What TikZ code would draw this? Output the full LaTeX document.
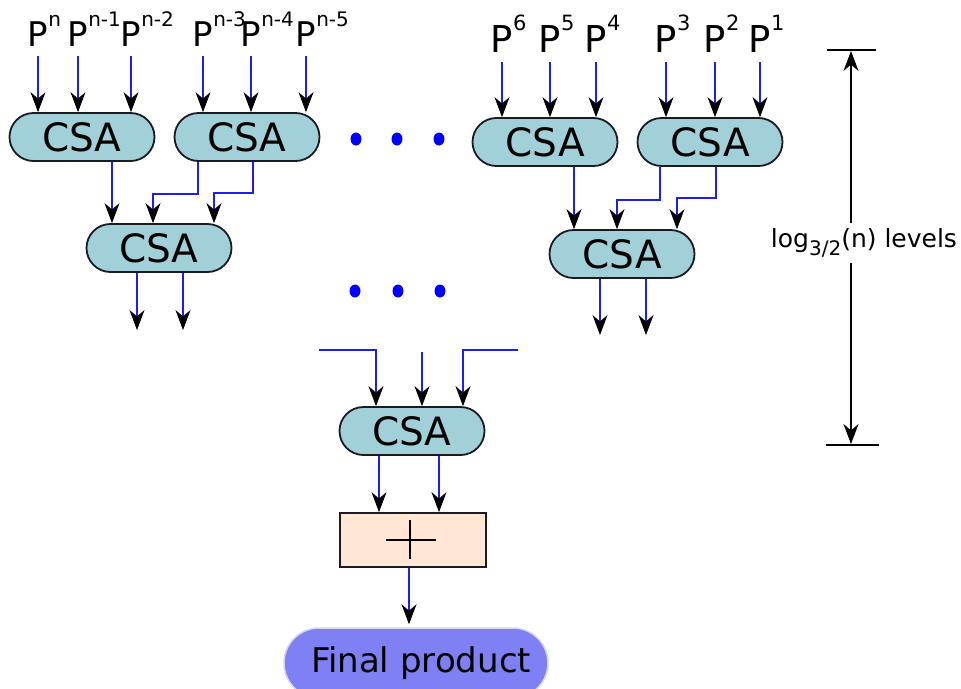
\documentclass[tikz,border=0pt]{standalone}
\usepackage{fontspec}
\setmainfont{DejaVu Sans}
\usetikzlibrary{arrows.meta,shapes.misc,shapes.geometric}

\definecolor{csafill}{RGB}{162,208,216}
\definecolor{addfill}{RGB}{255,230,213}
\definecolor{prodfill}{RGB}{128,128,245}
\definecolor{prodedge}{RGB}{214,214,236}
\definecolor{wire}{RGB}{30,30,240}
\definecolor{dotblue}{RGB}{0,0,255}
\definecolor{edge}{RGB}{26,26,34}

\newcommand\myfs[1]{\fontsize{#1}{#1}\selectfont}
% operand label: P with a superscript that does not count toward the width
\newcommand\opl[4]{\myfs{#1}P\rlap{\raisebox{#3}{\myfs{#2}#4}}}

\tikzset{
  csa/.style={rounded rectangle, draw=edge, line width=1.8pt, fill=csafill,
    minimum width=145pt, minimum height=48pt, inner sep=0pt, font=\myfs{39}},
  adder/.style={rectangle, draw=edge, line width=1.8pt, fill=addfill,
    minimum width=146pt, minimum height=54pt, inner sep=0pt},
  result/.style={rounded rectangle, draw=prodedge, line width=1.5pt, fill=prodfill,
    minimum width=264pt, minimum height=70pt, inner sep=0pt, font=\myfs{34}},
  oplab/.style={anchor=base, inner sep=0pt},
  tip/.style={-{Stealth[black, length=20pt, width=15pt, inset=6.5pt, line width=0.8pt]}},
  feed/.style={draw=wire, line width=1.3pt, tip},
  dimline/.style={draw=black, line width=1.8pt, tip},
  tick/.style={draw=black, line width=2.4pt},
  dot/.style={ellipse, fill=dotblue, inner sep=0pt, minimum width=11pt, minimum height=13pt},
}

\begin{document}
\begin{tikzpicture}[x=1pt, y=-1pt]
\useasboundingbox (0,0) rectangle (961,688);
\clip (0,0) rectangle (961,688);

% first level of carry-save adders
\node[csa] (c1) at (82,137) {CSA};
\node[csa] (c2) at (247,137) {CSA};
\node[csa] (c3) at (545,142) {CSA};
\node[csa] (c4) at (710,142) {CSA};

% partial products, left group
\node[oplab] (p1) at (38,46)  {\opl{34}{20}{20pt}{n}};
\node[oplab] (p2) at (78,46)  {\opl{34}{20}{20pt}{n-1}};
\node[oplab] (p3) at (131,46) {\opl{34}{20}{20pt}{n-2}};
\node[oplab] (p4) at (203,46) {\opl{34}{20}{20pt}{n-3}};
\node[oplab] (p5) at (251,46) {\opl{34}{20}{20pt}{n-4}};
\node[oplab] (p6) at (306,46) {\opl{34}{20}{20pt}{n-5}};
% partial products, right group
\node[oplab] (q6) at (502,52) {\opl{37}{21}{22pt}{6}};
\node[oplab] (q5) at (550,52) {\opl{37}{21}{22pt}{5}};
\node[oplab] (q4) at (596,52) {\opl{37}{21}{22pt}{4}};
\node[oplab] (q3) at (666,52) {\opl{37}{21}{22pt}{3}};
\node[oplab] (q2) at (715,52) {\opl{37}{21}{22pt}{2}};
\node[oplab] (q1) at (760,52) {\opl{37}{21}{22pt}{1}};

\foreach \p/\c in {p1/c1,p2/c1,p3/c1,p4/c2,p5/c2,p6/c2}
  \draw[feed] ([yshift=-10pt]\p.south) -- (\p.south |- \c.north);
\foreach \p/\c in {q6/c3,q5/c3,q4/c3,q3/c4,q2/c4,q1/c4}
  \draw[feed] ([yshift=-10pt]\p.south) -- (\p.south |- \c.north);

% second level
\node[csa] (c5) at (159,248) {CSA};
\node[csa] (c6) at (622,254) {CSA};

\draw[feed] ([xshift=30pt]c1.south) -- ([xshift=-47pt]c5.north);
\draw[feed] ([xshift=-49pt]c2.south) -- ++(0,32) -| ([xshift=-6pt]c5.north);
\draw[feed] ([xshift=6pt]c2.south) -- ++(0,31) -| ([xshift=55pt]c5.north);

\draw[feed] ([xshift=29pt]c3.south) -- ([xshift=-48pt]c6.north);
\draw[feed] ([xshift=-50pt]c4.south) -- ++(0,33) -| ([xshift=-5pt]c6.north);
\draw[feed] ([xshift=6pt]c4.south) -- ++(0,31) -| ([xshift=55pt]c6.north);

% outputs leaving the second level
\coordinate (o1) at (137,330);
\coordinate (o2) at (183,330);
\coordinate (o3) at (600,335);
\coordinate (o4) at (646,335);
\draw[feed] (c5.south -| o1) -- (o1);
\draw[feed] (c5.south -| o2) -- (o2);
\draw[feed] (c6.south -| o3) -- (o3);
\draw[feed] (c6.south -| o4) -- (o4);

% ellipses between the groups
\foreach \x in {356,397,439} \node[dot] (d1\x) at (\x,139) {};
\foreach \x in {355,398,440} \node[dot] (d2\x) at (\x,291) {};

% last carry-save adder
\node[csa] (c7) at (412,431) {CSA};
\coordinate (inL) at (319,350);
\coordinate (inM) at (422,352);
\coordinate (inR) at (518,350);
\draw[feed] (inL) -| ([xshift=-36pt]c7.north);
\draw[feed] (inM) -- (c7.north -| inM);
\draw[feed] (inR) -| ([xshift=51pt]c7.north);

% final carry-propagate adder
\node[adder] (add) at (413,540) {};
\draw[black, line width=2.4pt] ([xshift=-27pt]add.center) -- ([xshift=23pt]add.center);
\draw[black, line width=2.4pt] ([xshift=-3pt,yshift=20pt]add.center) -- ([xshift=-3pt,yshift=-19pt]add.center);
\draw[feed] ([xshift=-33pt]c7.south) -- ([xshift=-34pt]add.north);
\draw[feed] ([xshift=27pt]c7.south) -- ([xshift=26pt]add.north);

\node[result] (prod) at (416,663) {\hspace*{10pt}Final product};
\draw[feed] ([xshift=-4pt]add.south) -- ([xshift=-7pt,yshift=3pt]prod.north);

% depth of the tree
\coordinate (dtop) at (851,50);
\coordinate (dbot) at (851,445);
\node[inner sep=0pt, font=\myfs{25}] (lvl) at (864,243)
  {log\raisebox{-8pt}{\myfs{20}3/2}(n) levels};
\coordinate (gtop) at (851,223);
\coordinate (gbot) at (851,263);
\draw[tick] ([xshift=-24pt]dtop) -- ([xshift=25pt]dtop);
\draw[tick] ([xshift=-25pt]dbot) -- ([xshift=28pt]dbot);
\draw[dimline] (gtop) -- ([yshift=-1pt]dtop);
\draw[dimline] (gbot) -- ([yshift=1pt]dbot);
\end{tikzpicture}
\end{document}
